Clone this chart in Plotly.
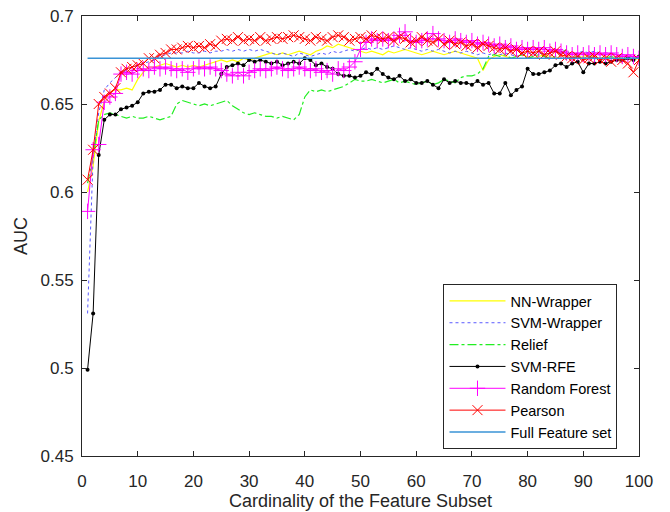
import plotly.graph_objects as go

x = list(range(1, 101))

nn_wrapper = [0.600, 0.615, 0.640, 0.652, 0.657, 0.658, 0.658, 0.659, 0.658, 0.664,
              0.668, 0.671, 0.671, 0.672, 0.673, 0.672, 0.671, 0.672, 0.671, 0.672,
              0.671, 0.672, 0.673, 0.674, 0.675, 0.674, 0.675, 0.674, 0.676, 0.675,
              0.676, 0.677, 0.678, 0.679, 0.678, 0.679, 0.678, 0.679, 0.680, 0.679,
              0.678, 0.680, 0.681, 0.683, 0.682, 0.684, 0.683, 0.682, 0.681, 0.680,
              0.679, 0.680, 0.679, 0.678, 0.680, 0.679, 0.680, 0.681, 0.680, 0.679,
              0.678, 0.679, 0.680, 0.679, 0.678, 0.679, 0.680, 0.679, 0.678, 0.677,
              0.676, 0.669, 0.675, 0.677, 0.678, 0.677, 0.676, 0.677, 0.678, 0.677,
              0.676, 0.677, 0.678, 0.677, 0.676, 0.677, 0.678, 0.677, 0.676, 0.677,
              0.678, 0.677, 0.676, 0.677, 0.676, 0.677, 0.676, 0.676, 0.675, 0.676]

svm_wrapper = [0.531, 0.620, 0.645, 0.658, 0.662, 0.665, 0.668, 0.669, 0.671, 0.672,
               0.673, 0.674, 0.675, 0.677, 0.678, 0.679, 0.679, 0.679, 0.680, 0.679,
               0.679, 0.680, 0.679, 0.680, 0.680, 0.681, 0.680, 0.681, 0.680, 0.681,
               0.680, 0.681, 0.680, 0.679, 0.678, 0.679, 0.678, 0.677, 0.679, 0.678,
               0.677, 0.678, 0.679, 0.678, 0.680, 0.679, 0.680, 0.681, 0.680, 0.681,
               0.682, 0.681, 0.682, 0.681, 0.682, 0.683, 0.682, 0.681, 0.682, 0.681,
               0.680, 0.681, 0.680, 0.681, 0.680, 0.679, 0.680, 0.679, 0.680, 0.679,
               0.678, 0.679, 0.678, 0.679, 0.678, 0.679, 0.678, 0.677, 0.678, 0.679,
               0.678, 0.679, 0.678, 0.679, 0.680, 0.679, 0.679, 0.678, 0.679, 0.680,
               0.679, 0.680, 0.679, 0.678, 0.679, 0.678, 0.677, 0.677, 0.676, 0.676]

relief = [0.605, 0.620, 0.641, 0.644, 0.645, 0.644, 0.643, 0.642, 0.643, 0.642,
          0.642, 0.643, 0.642, 0.641, 0.642, 0.643, 0.650, 0.652, 0.651, 0.650,
          0.649, 0.650, 0.649, 0.650, 0.651, 0.652, 0.649, 0.647, 0.645, 0.644,
          0.645, 0.644, 0.643, 0.643, 0.642, 0.643, 0.642, 0.641, 0.644, 0.654,
          0.658, 0.657, 0.658, 0.657, 0.658, 0.659, 0.660, 0.662, 0.664, 0.663,
          0.663, 0.664, 0.663, 0.662, 0.663, 0.664, 0.662, 0.663, 0.662, 0.661,
          0.662, 0.663, 0.661, 0.662, 0.664, 0.663, 0.662, 0.665, 0.666, 0.666,
          0.667, 0.670, 0.677, 0.678, 0.677, 0.678, 0.676, 0.677, 0.678, 0.676,
          0.677, 0.678, 0.677, 0.676, 0.677, 0.679, 0.681, 0.676, 0.677, 0.676,
          0.677, 0.676, 0.675, 0.676, 0.677, 0.676, 0.675, 0.676, 0.677, 0.676]

svm_rfe = [0.499, 0.531, 0.621, 0.641, 0.644, 0.644, 0.647, 0.648, 0.649, 0.651,
           0.656, 0.657, 0.657, 0.658, 0.661, 0.661, 0.659, 0.660, 0.659, 0.659,
           0.662, 0.660, 0.659, 0.660, 0.667, 0.671, 0.672, 0.673, 0.672, 0.675,
           0.674, 0.675, 0.674, 0.673, 0.674, 0.672, 0.673, 0.674, 0.673, 0.676,
           0.675, 0.672, 0.673, 0.671, 0.670, 0.667, 0.666, 0.666, 0.665, 0.666,
           0.668, 0.667, 0.670, 0.667, 0.665, 0.664, 0.666, 0.663, 0.664, 0.662,
           0.662, 0.663, 0.661, 0.659, 0.664, 0.662, 0.663, 0.662, 0.662, 0.661,
           0.663, 0.661, 0.662, 0.656, 0.656, 0.662, 0.655, 0.658, 0.660, 0.670,
           0.667, 0.667, 0.668, 0.669, 0.672, 0.673, 0.671, 0.673, 0.674, 0.668,
           0.673, 0.673, 0.674, 0.673, 0.674, 0.675, 0.675, 0.676, 0.675, 0.677]

random_forest = [0.589, 0.624, 0.627, 0.651, 0.654, 0.656, 0.667, 0.668, 0.667, 0.669,
                 0.670, 0.669, 0.671, 0.670, 0.671, 0.670, 0.669, 0.670, 0.668, 0.670,
                 0.671, 0.670, 0.671, 0.670, 0.669, 0.667, 0.666, 0.668, 0.666, 0.668,
                 0.669, 0.670, 0.669, 0.670, 0.671, 0.670, 0.669, 0.670, 0.671, 0.670,
                 0.669, 0.670, 0.668, 0.669, 0.667, 0.670, 0.669, 0.671, 0.674, 0.681,
                 0.685, 0.687, 0.686, 0.687, 0.686, 0.687, 0.689, 0.691, 0.686, 0.685,
                 0.686, 0.687, 0.690, 0.687, 0.686, 0.685, 0.687, 0.686, 0.685, 0.686,
                 0.684, 0.685, 0.684, 0.683, 0.684, 0.682, 0.683, 0.681, 0.682, 0.681,
                 0.682, 0.681, 0.682, 0.680, 0.681, 0.680, 0.679, 0.678, 0.679, 0.678,
                 0.679, 0.678, 0.679, 0.678, 0.679, 0.678, 0.677, 0.678, 0.677, 0.676]

pearson = [0.607, 0.624, 0.650, 0.654, 0.656, 0.659, 0.668, 0.670, 0.671, 0.672,
           0.673, 0.676, 0.676, 0.678, 0.679, 0.681, 0.681, 0.682, 0.683, 0.682,
           0.683, 0.682, 0.684, 0.683, 0.686, 0.687, 0.686, 0.688, 0.686, 0.687,
           0.686, 0.688, 0.686, 0.687, 0.688, 0.687, 0.688, 0.689, 0.688, 0.687,
           0.686, 0.688, 0.687, 0.686, 0.688, 0.689, 0.688, 0.686, 0.687, 0.688,
           0.687, 0.689, 0.688, 0.687, 0.688, 0.686, 0.688, 0.687, 0.685, 0.686,
           0.688, 0.686, 0.685, 0.687, 0.684, 0.686, 0.684, 0.685, 0.683, 0.684,
           0.682, 0.684, 0.683, 0.682, 0.681, 0.682, 0.680, 0.681, 0.679, 0.680,
           0.679, 0.680, 0.678, 0.679, 0.680, 0.678, 0.677, 0.676, 0.677, 0.675,
           0.676, 0.677, 0.675, 0.676, 0.674, 0.676, 0.675, 0.673, 0.668, 0.675]

full_feature = [0.676] * 100

x_ticks = [0, 10, 20, 30, 40, 50, 60, 70, 80, 90, 100]
y_ticks = [0.45, 0.5, 0.55, 0.6, 0.65, 0.7]

FONT = "Liberation Sans, Arial, sans-serif"
AX = "#262626"

fig = go.Figure()
fig.add_trace(go.Scatter(x=x, y=nn_wrapper, mode="lines", name="NN-Wrapper",
                         line=dict(color="#FFFF00", width=1.2)))
fig.add_trace(go.Scatter(x=x, y=svm_wrapper, mode="lines", name="SVM-Wrapper",
                         line=dict(color="#5A5AFF", width=1, dash="dot")))
fig.add_trace(go.Scatter(x=x, y=relief, mode="lines", name="Relief",
                         line=dict(color="#22EE22", width=1.2, dash="dashdot")))
fig.add_trace(go.Scatter(x=x, y=svm_rfe, mode="lines+markers", name="SVM-RFE",
                         line=dict(color="#000000", width=1),
                         marker=dict(symbol="circle", size=4, color="#000000")))
fig.add_trace(go.Scatter(x=x, y=random_forest, mode="lines+markers", name="Random Forest",
                         line=dict(color="#FF00FF", width=1),
                         marker=dict(symbol="cross-thin", size=11,
                                     line=dict(color="#FF00FF", width=1))))
fig.add_trace(go.Scatter(x=x, y=pearson, mode="lines+markers", name="Pearson",
                         line=dict(color="#FF0000", width=1),
                         marker=dict(symbol="x-thin", size=10,
                                     line=dict(color="#FF0000", width=1))))
fig.add_trace(go.Scatter(x=x, y=full_feature, mode="lines", name="Full Feature set",
                         line=dict(color="#3A93D6", width=1.5)))

fig.update_layout(
    width=670, height=512,
    margin=dict(l=82, r=31, t=16, b=56),
    paper_bgcolor="white", plot_bgcolor="white",
    font=dict(family=FONT, size=15, color=AX),
    showlegend=True,
    legend=dict(x=0.649, y=0.391, xanchor="left", yanchor="top",
                bgcolor="white", bordercolor=AX, borderwidth=1,
                font=dict(family=FONT, size=14.5, color="#000000"),
                tracegroupgap=0, itemwidth=56),
)
fig.update_xaxes(range=[0, 100], tickvals=x_ticks, ticks="inside", ticklen=5,
                 tickcolor=AX, showline=True, linecolor=AX, linewidth=1, mirror="ticks",
                 showgrid=False, zeroline=False, ticklabelstandoff=10, automargin=False,
                 tickfont=dict(family=FONT, size=17, color=AX),
                 title=dict(text="Cardinality of the Feature Subset",
                            font=dict(family=FONT, size=18, color=AX), standoff=2))
fig.update_yaxes(range=[0.45, 0.7], tickvals=y_ticks, ticks="inside", ticklen=5,
                 tickcolor=AX, showline=True, linecolor=AX, linewidth=1, mirror="ticks",
                 showgrid=False, zeroline=False, ticklabelstandoff=4, automargin=False,
                 tickfont=dict(family=FONT, size=17, color=AX),
                 title=dict(text="AUC", font=dict(family=FONT, size=18, color=AX), standoff=8))

fig.write_html("out.html")
